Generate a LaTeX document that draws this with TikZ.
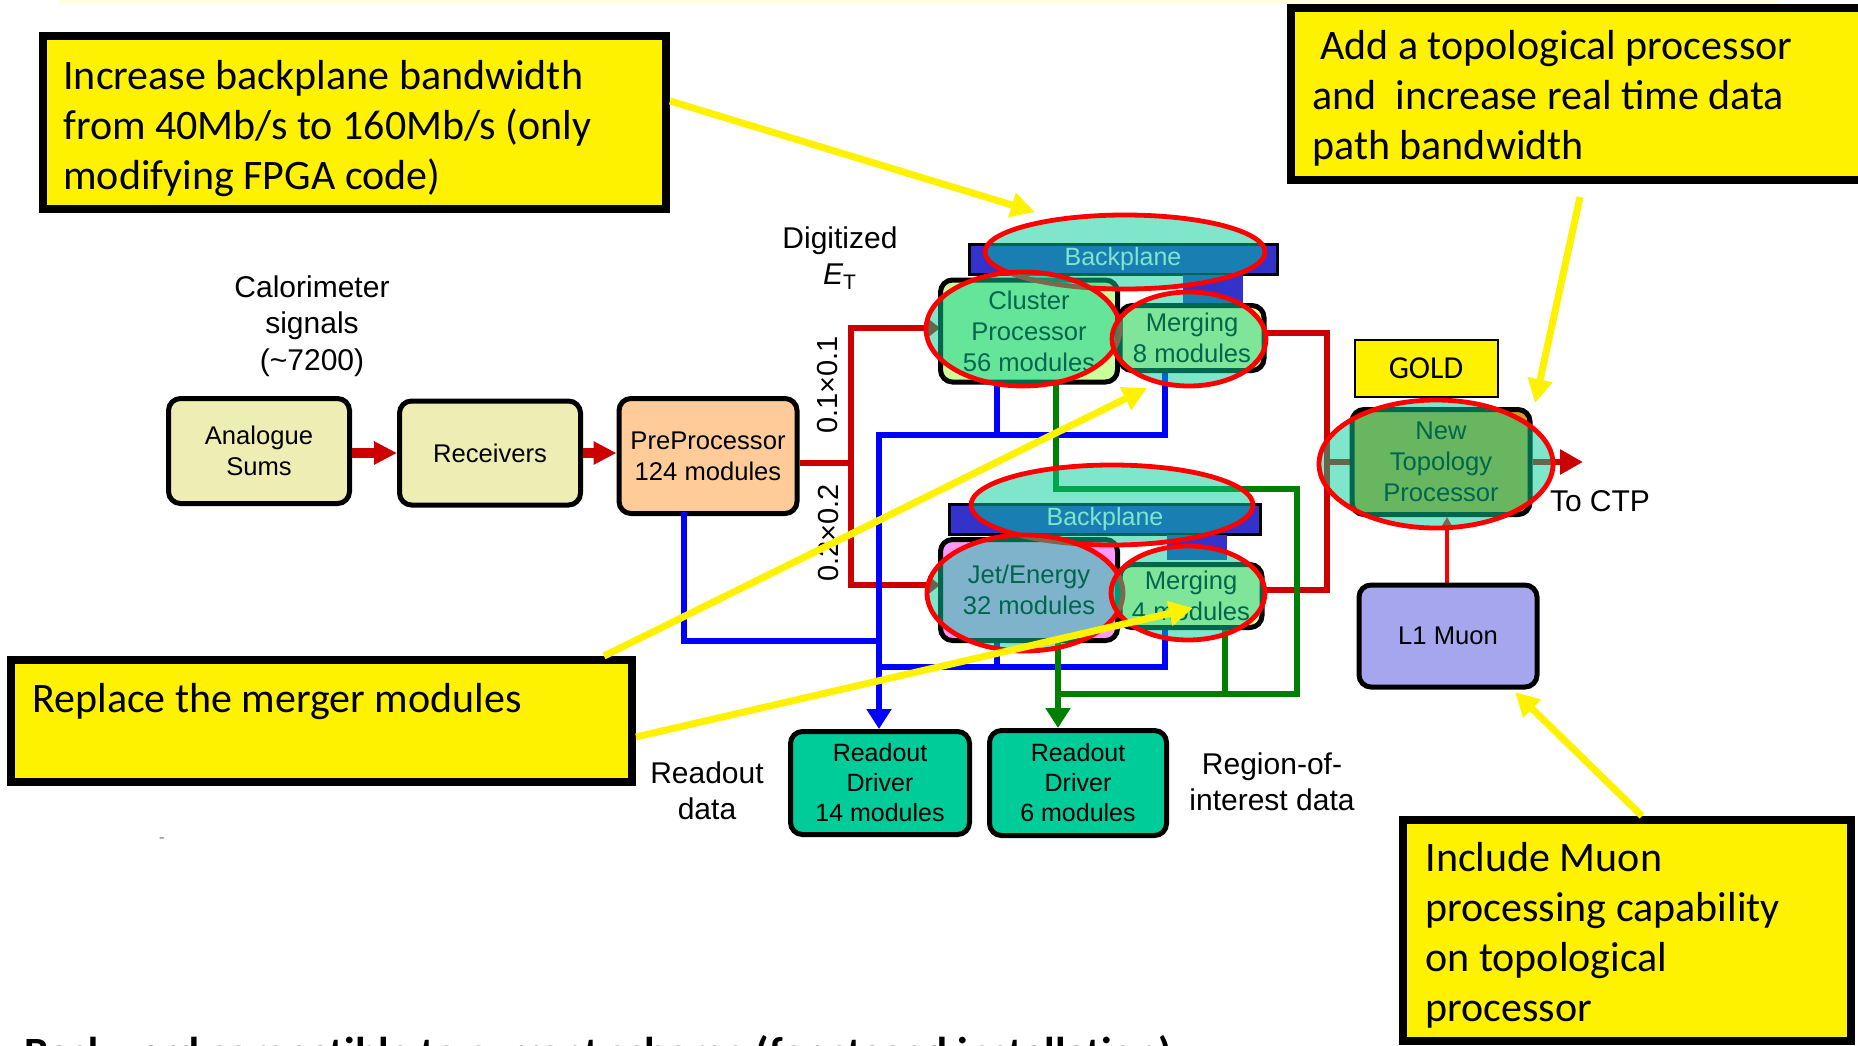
\documentclass[tikz,border=0pt]{standalone}
\usepackage{fontspec}
\setmainfont{Carlito}
\newfontfamily\arialfont{Liberation Sans}
\usetikzlibrary{shapes.geometric,arrows.meta}

\definecolor{sumfill}{RGB}{238,238,180}
\definecolor{prefill}{RGB}{255,204,153}
\definecolor{clusterfill}{RGB}{204,255,153}
\definecolor{jetfill}{RGB}{255,153,255}
\definecolor{mergefill}{RGB}{255,255,153}
\definecolor{bpblue}{RGB}{51,51,204}
\definecolor{rodfill}{RGB}{0,204,153}
\definecolor{muonfill}{RGB}{166,166,238}
\definecolor{topofill}{RGB}{210,160,40}
\definecolor{darkred}{RGB}{204,0,0}
\definecolor{hilite}{RGB}{0,204,153}
\definecolor{cream}{RGB}{255,255,224}
\definecolor{dgreen}{RGB}{0,128,0}

\tikzset{
  blk/.style={draw=black, line width=2.5pt, rounded corners=6pt, inner sep=0pt, align=center,
    font=\arialfont\fontsize{12.8}{15.5}\selectfont},
  plane/.style={draw=black, line width=1.5pt, fill=bpblue, inner sep=0pt, text=white,
    font=\arialfont\fontsize{12.5}{15}\selectfont},
  ring/.style={ellipse, draw=red, line width=2.4pt, fill=hilite, fill opacity=0.5,
    draw opacity=1, inner sep=0pt},
  wire/.style={line width=3pt, line cap=rect},
  redwire/.style={wire, draw=darkred},
  bluewire/.style={wire, draw=blue},
  greenwire/.style={wire, draw=dgreen},
  plainlabel/.style={inner sep=0pt, align=center, font=\arialfont\fontsize{15}{18.3}\selectfont},
  notebox/.style={draw=black, line width=4pt, fill=yellow, inner sep=0pt},
  notetext/.style={inner sep=0pt, align=left, anchor=north west, font=\fontsize{21}{25}\selectfont},
  pointer/.style={draw=yellow, line width=3.5pt, -{Triangle[length=12pt,width=12pt]}},
}

\begin{document}
\begin{tikzpicture}[x=0.5pt,y=-0.5pt]
\useasboundingbox (0,0) rectangle (1858,1045);
\clip (0,0) rectangle (1858,1045);
\fill[white] (0,0) rectangle (1858,1045);
\fill[cream] (59,0) rectangle (1777,4);

% ---------- junction points of the signal paths ----------
\coordinate (jt) at (851,328);
\coordinate (jm) at (851,463);
\coordinate (jb) at (851,585);
\coordinate (rt) at (1327,333);
\coordinate (rm) at (1327,462);
\coordinate (rb) at (1327,590);
\coordinate (ctp) at (1583,462);
\coordinate (b1) at (684,641);
\coordinate (bt) at (879,435);
\coordinate (bb) at (879,667);
\coordinate (cb) at (997,435);
\coordinate (mb) at (1165,435);
\coordinate (jb2) at (997,667);
\coordinate (mb2) at (1165,667);
\coordinate (g1) at (1056,489);
\coordinate (g2) at (1297,489);
\coordinate (g3) at (1297,694);
\coordinate (g4) at (1058,694);
\coordinate (g5) at (1225,694);

% ---------- front-end boxes ----------
\node[blk, fill=sumfill, minimum width=90.5pt, minimum height=52.5pt] (sums) at (259,451) {Analogue\\Sums};
\node[blk, fill=sumfill, minimum width=90.5pt, minimum height=52pt] (recv) at (490,453) {Receivers};
\node[blk, fill=prefill, minimum width=89pt, minimum height=57.5pt] (pre) at (708,456) {PreProcessor\\124 modules};

% wires under the module boxes
\draw[redwire, line cap=butt] (pre.east |- jm) -- (jm);
\draw[redwire, line cap=butt, {Triangle[length=6pt,width=9pt]}-{Triangle[length=6pt,width=9pt]}]
  (1029-89,328) -- (jt) -- (jb) -- (1029-89,585);
\draw[redwire] (1192+72,333) -- (rt) -- (rb) -- (1191+71,590);
\draw[redwire] (rm) -- (1350,462);
\draw[redwire, line cap=butt, -{Triangle[length=11.5pt,width=12pt]}] (1533,462) -- (ctp);
\draw[red, line width=2.3pt, -{Triangle[length=6pt,width=6.5pt]}] (1447,583) -- (1447,517);

\draw[bluewire] (684,515) -- (b1) -- (879,641);
\draw[bluewire] (997,385) -- (cb);
\draw[bluewire] (bt) -- (mb) -- (1165,373);
\draw[bluewire] (997,643) -- (jb2);
\draw[bluewire] (bb) -- (mb2) -- (1165,630);

\draw[greenwire] (1056,385) -- (g1) -- (g2) -- (g3) -- (g4);
\draw[greenwire] (1225,630) -- (g5);

% ---------- processor crates ----------
\node[plane, minimum width=154pt, minimum height=15pt] (bp1) at (1123,259) {Backplane};
\node[fill=bpblue, inner sep=0pt, minimum width=30pt, minimum height=14pt] (conn1) at (1213,289) {};
\node[blk, fill=clusterfill, minimum width=88.5pt, minimum height=51pt] (cluster) at (1029,331) {Cluster\\Processor\\56 modules};
\node[blk, fill=mergefill, minimum width=72pt, minimum height=32.5pt] (merge8) at (1192,338) {Merging\\8 modules};

\node[plane, minimum width=155.5pt, minimum height=15pt] (bp2) at (1105,519) {Backplane};
\node[fill=bpblue, inner sep=0pt, minimum width=30pt, minimum height=12.5pt] (conn2) at (1197,547) {};
\node[blk, fill=jetfill, minimum width=88.5pt, minimum height=50.5pt] (jet) at (1029,590) {Jet/Energy\\32 modules};
\node[blk, fill=mergefill, minimum width=71pt, minimum height=31.5pt] (merge4) at (1191,596) {Merging\\4 modules};

\node[blk, fill=topofill, minimum width=89pt, minimum height=52.5pt] (topo) at (1441,462) {New\\Topology\\Processor};
\node[draw=black, line width=1pt, fill=yellow, inner sep=0pt, minimum width=71.5pt, minimum height=28.5pt,
  font=\fontsize{16}{16}\selectfont] (gold) at (1426,368) {GOLD};
\node[blk, fill=muonfill, minimum width=89pt, minimum height=51pt] (muon) at (1448,636) {L1 Muon};

\node[blk, fill=rodfill, minimum width=89.5pt, minimum height=51.5pt,
  font=\arialfont\fontsize{12.5}{15}\selectfont] (rod14) at (880,783) {Readout\\Driver\\14 modules};
\node[blk, fill=rodfill, minimum width=88.5pt, minimum height=52.5pt,
  font=\arialfont\fontsize{12.5}{15}\selectfont] (rod6) at (1078,783) {Readout\\Driver\\6 modules};

% readout arrows into the drivers
\draw[bluewire, -{Triangle[length=10pt,width=12pt]}] (bt) -- (bt |- rod14.north);
\draw[greenwire, -{Triangle[length=10pt,width=12pt]}] (g4 |- jet.south) -- (g4 |- rod6.north);

% analogue chain arrows
\draw[darkred, line width=5pt, -{Triangle[length=11.5pt,width=11pt]}] (sums.east |- 0,453) -- (recv.west |- 0,453);
\draw[darkred, line width=5pt, -{Triangle[length=11.5pt,width=11pt]}] (recv.east |- 0,453) -- (pre.west |- 0,453);

% ---------- text labels ----------
\node[plainlabel, anchor=north] (calo) at (312,275) {Calorimeter\\signals\\(\textasciitilde7200)};
\node[plainlabel, anchor=north] (digit) at (840,226) {Digitized\\{\itshape E}\textsubscript{T}};
\node[plainlabel, rotate=90, font=\arialfont\fontsize{14.5}{16}\selectfont] (fine) at (828,385) {0.1×0.1};
\node[plainlabel, rotate=90, font=\arialfont\fontsize{14.5}{16}\selectfont] (coarse) at (829,533) {0.2×0.2};
\node[plainlabel, anchor=north] (rodata) at (707,761) {Readout\\data};
\node[plainlabel, anchor=north] (roidata) at (1272,752) {Region-of-\\interest data};
\node[plainlabel] (toctp) at (1600,501) {To CTP};

% ---------- highlight rings ----------
\node[ring, minimum width=140pt, minimum height=37pt] (hbp1) at (1125,252) {};
\node[ring, minimum width=97pt, minimum height=57pt] (hcl) at (1023,329) {};
\node[ring, minimum width=77pt, minimum height=47pt] (hm8) at (1189,339) {};
\node[ring, minimum width=141pt, minimum height=40pt] (hbp2) at (1112,505) {};
\node[ring, minimum width=98pt, minimum height=58pt] (hjet) at (1025,593) {};
\node[ring, minimum width=77pt, minimum height=47pt] (hm4) at (1188,593) {};
\node[ring, minimum width=117pt, minimum height=64pt] (htopo) at (1436,464) {};

% ---------- notes ----------
\node[notebox, minimum width=311.5pt, minimum height=86.5pt] (c1) at (354.5,122.5) {};
\node[notetext] (t1) at (63,60) {Increase backplane bandwidth\\from 40Mb/s to 160Mb/s (only\\modifying FPGA code)};
\node[notebox, minimum width=289.5pt, minimum height=86pt] (c2) at (1580.5,94) {};
\node[notetext] (t2) at (1312,30) {\hspace*{4pt}Add a topological processor\\and \ increase real time data\\path bandwidth};
\node[notebox, minimum width=310.5pt, minimum height=61pt] (c3) at (321.5,721) {};
\node[notetext] (t3) at (32,683) {Replace the merger modules};
\node[notebox, minimum width=224pt, minimum height=110.5pt] (c4) at (1627,930.5) {};
\node[notetext] (t4) at (1425,842) {Include Muon\\processing capability\\on topological\\processor};

\coordinate (tip1) at (1035,212);
\coordinate (p2s) at (1580,197);
\coordinate (tip2) at (1535,403);
\coordinate (tip3) at (1147,388);
\coordinate (tip4) at (1193,608);
\coordinate (tip5) at (1515,692);
\draw[pointer] (c1.east |- 0,101) -- (tip1);
\draw[pointer] (p2s) -- (tip2);
\draw[pointer] (c3.north -| 604,0) -- (tip3);
\draw[pointer] (c3.east |- 0,737) -- (tip4);
\draw[pointer] (c4.north -| 1642,0) -- (tip5);

\node[inner sep=0pt, text=gray, font=\fontsize{9}{9}\selectfont] (mark) at (162,841) {-};
\node[anchor=base west, inner sep=0pt, font=\bfseries\fontsize{21.6}{25}\selectfont] (foot) at (24,1067)
  {Backward compatible to current scheme (for staged installation)};
\end{tikzpicture}
\end{document}
